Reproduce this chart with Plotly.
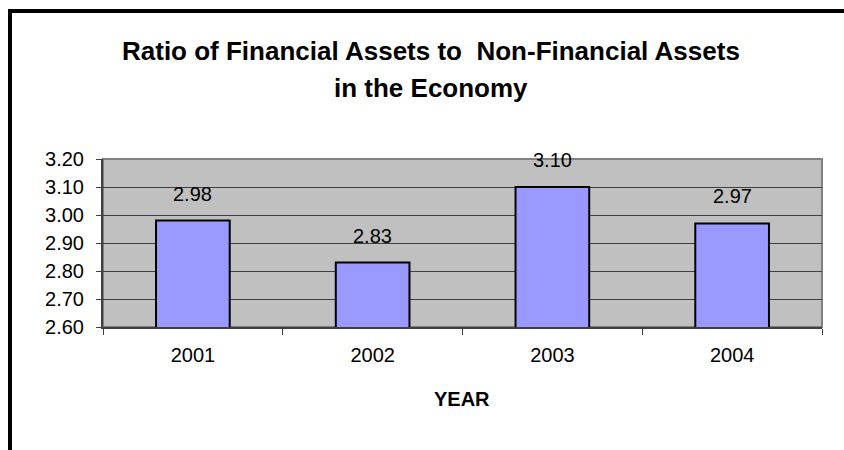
import plotly.graph_objects as go

years = ["2001", "2002", "2003", "2004"]
ratios = [2.98, 2.83, 3.10, 2.97]
title_lines = ["Ratio of Financial Assets to  Non-Financial Assets", "in the Economy"]
x_title = "YEAR"

FONT = "Liberation Sans, Arial, sans-serif"
L, R, T, B = 103, 22, 159, 123
W, H = 844, 450
PW, PH = W - L - R, H - T - B

def px_to_paper_x(px):
    return (px - L) / PW

def px_to_paper_y(py):
    return (H - B - py) / PH

fig = go.Figure()
fig.add_trace(go.Bar(
    x=years, y=ratios, width=0.41,
    marker=dict(color="#9999FF", line=dict(color="black", width=2)),
    hoverinfo="skip",
))

annotations = []
for i, v in enumerate(ratios):
    annotations.append(dict(x=i, y=v, xref="x", yref="y", text=f"{v:.2f}",
                            showarrow=False, yanchor="middle", yshift=27,
                            font=dict(family=FONT, size=20, color="black")))
annotations.append(dict(x=px_to_paper_x(431), y=px_to_paper_y(51), xref="paper", yref="paper",
                        text=f"<b>{title_lines[0]}</b>", showarrow=False, yanchor="middle",
                        font=dict(family=FONT, size=26, color="black")))
annotations.append(dict(x=px_to_paper_x(431), y=px_to_paper_y(88), xref="paper", yref="paper",
                        text=f"<b>{title_lines[1]}</b>", showarrow=False, yanchor="middle",
                        font=dict(family=FONT, size=26, color="black")))
annotations.append(dict(x=px_to_paper_x(462), y=px_to_paper_y(399), xref="paper", yref="paper",
                        text=f"<b>{x_title}</b>", showarrow=False, yanchor="middle",
                        font=dict(family=FONT, size=20, color="black")))

shapes = [
    dict(type="rect", xref="paper", yref="paper", x0=0, x1=1, y0=0, y1=1,
         line=dict(color="#808080", width=2), layer="below"),
    dict(type="rect", xref="paper", yref="paper",
         x0=px_to_paper_x(10), x1=px_to_paper_x(900),
         y0=px_to_paper_y(520), y1=px_to_paper_y(11),
         line=dict(color="black", width=4), fillcolor="rgba(0,0,0,0)", layer="above"),
]

fig.update_layout(
    width=W, height=H,
    margin=dict(l=L, r=R, t=T, b=B, pad=0),
    paper_bgcolor="white", plot_bgcolor="#C0C0C0",
    showlegend=False,
    font=dict(family=FONT, size=20, color="black"),
    annotations=annotations, shapes=shapes,
    xaxis=dict(type="category", categoryorder="array", categoryarray=years,
               range=[-0.5, len(years) - 0.5], tickson="boundaries", ticks="outside", ticklen=6,
               tickcolor="#404040", tickwidth=1, showline=True, linecolor="#404040", linewidth=2,
               showgrid=False, ticklabelstandoff=9, tickangle=0,
               tickfont=dict(family=FONT, size=20, color="black"), fixedrange=True),
    yaxis=dict(range=[2.6, 3.2], dtick=0.1, tick0=2.6, tickformat=".2f", ticks="outside",
               ticklen=5, tickcolor="#404040", showline=True, linecolor="#404040", linewidth=2,
               showgrid=True, gridcolor="#404040", gridwidth=1, zeroline=False,
               ticklabelstandoff=8, tickfont=dict(family=FONT, size=20, color="black"),
               fixedrange=True),
)

fig.write_html("out.html")
